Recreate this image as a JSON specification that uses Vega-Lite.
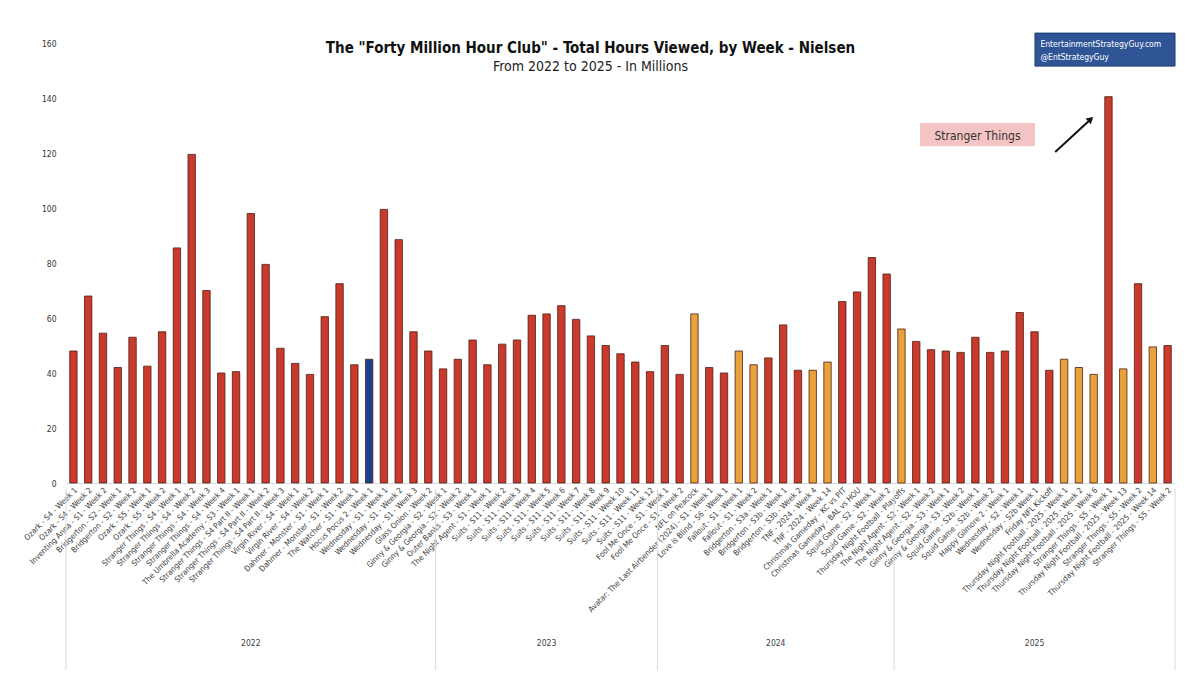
{
  "$schema": "https://vega.github.io/schema/vega-lite/v6.json",
  "width": 1109,
  "height": 440,
  "autosize": {"type": "none"},
  "padding": {"left": 66, "top": 43, "right": 25, "bottom": 194},
  "background": "white",
  "config": {
    "view": {"stroke": null},
    "font": "Liberation Sans Narrow, DejaVu Sans Condensed, sans-serif"
  },
  "title": {
    "text": "The \"Forty Million Hour Club\" - Total Hours Viewed, by Week - Nielsen",
    "subtitle": "From 2022 to 2025 - In Millions",
    "anchor": "middle",
    "frame": "group",
    "offset": -41,
    "dx": -30,
    "fontSize": 15,
    "fontWeight": "bold",
    "color": "#111111",
    "subtitleFontSize": 14,
    "subtitleColor": "#222222",
    "subtitlePadding": 4,
    "font": "Liberation Sans Narrow, DejaVu Sans Condensed, sans-serif",
    "subtitleFont": "Liberation Sans Narrow, DejaVu Sans Condensed, sans-serif"
  },
  "datasets": {
    "weeks": [
      {"show": "Ozark - S4 - Week 1", "year": "2022", "platform": "Netflix", "hours": 48},
      {"show": "Ozark - S4 - Week 2", "year": "2022", "platform": "Netflix", "hours": 68},
      {"show": "Inventing Anna - S1 - Week 2", "year": "2022", "platform": "Netflix", "hours": 54.5},
      {"show": "Bridgerton - S2 - Week 1", "year": "2022", "platform": "Netflix", "hours": 42},
      {"show": "Bridgerton - S2 - Week 2", "year": "2022", "platform": "Netflix", "hours": 53},
      {"show": "Ozark - S5 - Week 1", "year": "2022", "platform": "Netflix", "hours": 42.5},
      {"show": "Ozark - S5 - Week 2", "year": "2022", "platform": "Netflix", "hours": 55},
      {"show": "Stranger Things - S4 - Week 1", "year": "2022", "platform": "Netflix", "hours": 85.5},
      {"show": "Stranger Things - S4 - Week 2", "year": "2022", "platform": "Netflix", "hours": 119.5},
      {"show": "Stranger Things - S4 - Week 3", "year": "2022", "platform": "Netflix", "hours": 70},
      {"show": "Stranger Things - S4 - Week 4", "year": "2022", "platform": "Netflix", "hours": 40},
      {"show": "The Umbrella Academy - S3 - Week 1", "year": "2022", "platform": "Netflix", "hours": 40.5},
      {"show": "Stranger Things - S4 Part II - Week 1", "year": "2022", "platform": "Netflix", "hours": 98},
      {"show": "Stranger Things - S4 Part II - Week 2", "year": "2022", "platform": "Netflix", "hours": 79.5},
      {"show": "Stranger Things - S4 Part II - Week 3", "year": "2022", "platform": "Netflix", "hours": 49},
      {"show": "Virgin River - S4 - Week 1", "year": "2022", "platform": "Netflix", "hours": 43.5},
      {"show": "Virgin River - S4 - Week 2", "year": "2022", "platform": "Netflix", "hours": 39.5},
      {"show": "Dahmer - Monster - S1 - Week 1", "year": "2022", "platform": "Netflix", "hours": 60.5},
      {"show": "Dahmer - Monster - S1 - Week 2", "year": "2022", "platform": "Netflix", "hours": 72.5},
      {"show": "The Watcher - S1 - Week 1", "year": "2022", "platform": "Netflix", "hours": 43},
      {"show": "Hocus Pocus 2 - Week 1", "year": "2022", "platform": "Disney+", "hours": 45},
      {"show": "Wednesday - S1 - Week 1", "year": "2022", "platform": "Netflix", "hours": 99.5},
      {"show": "Wednesday - S1 - Week 2", "year": "2022", "platform": "Netflix", "hours": 88.5},
      {"show": "Wednesday - S1 - Week 3", "year": "2022", "platform": "Netflix", "hours": 55},
      {"show": "Glass Onion - Week 2", "year": "2022", "platform": "Netflix", "hours": 48},
      {"show": "Ginny & Georgia - S2 - Week 1", "year": "2023", "platform": "Netflix", "hours": 41.5},
      {"show": "Ginny & Georgia - S2 - Week 2", "year": "2023", "platform": "Netflix", "hours": 45},
      {"show": "Outer Banks - S3 - Week 1", "year": "2023", "platform": "Netflix", "hours": 52},
      {"show": "The Night Agent - S1 - Week 1", "year": "2023", "platform": "Netflix", "hours": 43},
      {"show": "Suits - S11 - Week 2", "year": "2023", "platform": "Netflix", "hours": 50.5},
      {"show": "Suits - S11 - Week 3", "year": "2023", "platform": "Netflix", "hours": 52},
      {"show": "Suits - S11 - Week 4", "year": "2023", "platform": "Netflix", "hours": 61},
      {"show": "Suits - S11 - Week 5", "year": "2023", "platform": "Netflix", "hours": 61.5},
      {"show": "Suits - S11 - Week 6", "year": "2023", "platform": "Netflix", "hours": 64.5},
      {"show": "Suits - S11 - Week 7", "year": "2023", "platform": "Netflix", "hours": 59.5},
      {"show": "Suits - S11 - Week 8", "year": "2023", "platform": "Netflix", "hours": 53.5},
      {"show": "Suits - S11 - Week 9", "year": "2023", "platform": "Netflix", "hours": 50},
      {"show": "Suits - S11 - Week 10", "year": "2023", "platform": "Netflix", "hours": 47},
      {"show": "Suits - S11 - Week 11", "year": "2023", "platform": "Netflix", "hours": 44},
      {"show": "Suits - S11 - Week 12", "year": "2023", "platform": "Netflix", "hours": 40.5},
      {"show": "Fool Me Once - S1 - Week 1", "year": "2024", "platform": "Netflix", "hours": 50},
      {"show": "Fool Me Once - S1 - Week 2", "year": "2024", "platform": "Netflix", "hours": 39.5},
      {"show": "NFL on Peacock", "year": "2024", "platform": "Other", "hours": 61.5},
      {"show": "Avatar: The Last Airbender (2024) - S1 - Week 1", "year": "2024", "platform": "Netflix", "hours": 42},
      {"show": "Love is Blind - S6 - Week 1", "year": "2024", "platform": "Netflix", "hours": 40},
      {"show": "Fallout - S1 - Week 1", "year": "2024", "platform": "Other", "hours": 48},
      {"show": "Fallout - S1 - Week 2", "year": "2024", "platform": "Other", "hours": 43},
      {"show": "Bridgerton - S3a - Week 1", "year": "2024", "platform": "Netflix", "hours": 45.5},
      {"show": "Bridgerton - S3b - Week 1", "year": "2024", "platform": "Netflix", "hours": 57.5},
      {"show": "Bridgerton - S3b - Week 2", "year": "2024", "platform": "Netflix", "hours": 41},
      {"show": "TNF - 2024 - Week 4", "year": "2024", "platform": "Other", "hours": 41},
      {"show": "TNF - 2024 - Week 14", "year": "2024", "platform": "Other", "hours": 44},
      {"show": "Christmas Gameday - KC vs PIT", "year": "2024", "platform": "Netflix", "hours": 66},
      {"show": "Christmas Gameday - BAL vs HOU", "year": "2024", "platform": "Netflix", "hours": 69.5},
      {"show": "Squid Game - S2 - Week 1", "year": "2024", "platform": "Netflix", "hours": 82},
      {"show": "Squid Game - S2 - Week 2", "year": "2024", "platform": "Netflix", "hours": 76},
      {"show": "Thursday Night Football - Playoffs", "year": "2025", "platform": "Other", "hours": 56},
      {"show": "The Night Agent - S2 - Week 1", "year": "2025", "platform": "Netflix", "hours": 51.5},
      {"show": "The Night Agent - S2 - Week 2", "year": "2025", "platform": "Netflix", "hours": 48.5},
      {"show": "Ginny & Georgia - S3 - Week 1", "year": "2025", "platform": "Netflix", "hours": 48},
      {"show": "Ginny & Georgia - S3 - Week 2", "year": "2025", "platform": "Netflix", "hours": 47.5},
      {"show": "Squid Game - S2b - Week 1", "year": "2025", "platform": "Netflix", "hours": 53},
      {"show": "Squid Game - S2b - Week 2", "year": "2025", "platform": "Netflix", "hours": 47.5},
      {"show": "Happy Gilmore 2 - Week 1", "year": "2025", "platform": "Netflix", "hours": 48},
      {"show": "Wednesday - S2 - Week 1", "year": "2025", "platform": "Netflix", "hours": 62},
      {"show": "Wednesday - S2b Week 1", "year": "2025", "platform": "Netflix", "hours": 55},
      {"show": "Friday NFL Kickoff", "year": "2025", "platform": "Netflix", "hours": 41},
      {"show": "Thursday Night Football - 2025 - Week 1", "year": "2025", "platform": "Other", "hours": 45},
      {"show": "Thursday Night Football - 2025 - Week 2", "year": "2025", "platform": "Other", "hours": 42},
      {"show": "Thursday Night Football - 2025 - Week 6", "year": "2025", "platform": "Other", "hours": 39.5},
      {"show": "Stranger Things - S5 - Week 1", "year": "2025", "platform": "Netflix", "hours": 140.5},
      {"show": "Thursday Night Football - 2025 - Week 13", "year": "2025", "platform": "Other", "hours": 41.5},
      {"show": "Stranger Things - S5 - Week 2", "year": "2025", "platform": "Netflix", "hours": 72.5},
      {"show": "Thursday Night Football - 2025 - Week 14", "year": "2025", "platform": "Other", "hours": 49.5},
      {"show": "Stranger Things - S5 - Week 2 ", "year": "2025", "platform": "Netflix", "hours": 50}
    ],
    "years": [
      {"year": "2022", "mid": 12.5},
      {"year": "2023", "mid": 32.5},
      {"year": "2024", "mid": 48},
      {"year": "2025", "mid": 65.5}
    ],
    "bounds": [
      {"pos": 0, "top": -2, "bottom": -68},
      {"pos": 25, "top": -2, "bottom": -68},
      {"pos": 40, "top": -2, "bottom": -68},
      {"pos": 56, "top": -2, "bottom": -68},
      {"pos": 75, "top": -2, "bottom": -68}
    ],
    "callout": [
      {"label": "Stranger Things", "x0": 57.75, "x1": 65.53, "y0": 122.5, "y1": 130.9, "xm": 61.64, "ym": 126.2}
    ],
    "arrow": [
      {"x0": 66.9, "y0": 120.4, "x1": 69.3, "y1": 132.3}
    ],
    "badge": [
      {"x0": 65.53, "x1": 75, "y0": 151.6, "y1": 163.6}
    ],
    "badgeText": [
      {"line": "EntertainmentStrategyGuy.com", "x": 65.9, "y": 159.7},
      {"line": "@EntStrategyGuy", "x": 65.9, "y": 155}
    ]
  },
  "resolve": {"scale": {"x": "independent"}},
  "layer": [
    {
      "data": {"name": "weeks"},
      "mark": {"type": "bar", "stroke": "#4d1f17", "strokeWidth": 0.8},
      "encoding": {
        "x": {
          "field": "show",
          "type": "nominal",
          "sort": null,
          "scale": {"paddingInner": 0.5, "paddingOuter": 0.25},
          "axis": {
            "title": null,
            "labelAngle": -45,
            "labelFontSize": 8,
            "labelColor": "#404040",
            "labelPadding": 3,
            "labelLimit": 300,
            "ticks": false,
            "domainColor": "#d9d9d9",
            "labelFont": "Liberation Sans Narrow, DejaVu Sans Condensed, sans-serif"
          }
        },
        "y": {
          "field": "hours",
          "type": "quantitative",
          "scale": {"domain": [0, 160], "nice": false},
          "axis": {
            "title": null,
            "values": [0, 20, 40, 60, 80, 100, 120, 140, 160],
            "grid": false,
            "domain": false,
            "ticks": false,
            "labelPadding": 10,
            "labelFontSize": 8.5,
            "labelColor": "#333333",
            "labelFont": "Liberation Sans Narrow, DejaVu Sans Condensed, sans-serif"
          }
        },
        "color": {
          "field": "platform",
          "type": "nominal",
          "scale": {"domain": ["Netflix", "Other", "Disney+"], "range": ["#c9392c", "#e9a23b", "#1f3f8f"]},
          "legend": null
        }
      }
    },
    {
      "data": {"name": "bounds"},
      "mark": {"type": "rule", "color": "#d9d9d9", "strokeWidth": 1},
      "encoding": {
        "x": {"field": "pos", "type": "quantitative", "scale": {"domain": [0, 75], "nice": false}, "axis": null},
        "y": {"field": "top", "type": "quantitative"},
        "y2": {"field": "bottom"}
      }
    },
    {
      "data": {"name": "years"},
      "mark": {"type": "text", "fontSize": 8.5, "color": "#404040", "baseline": "middle"},
      "encoding": {
        "x": {"field": "mid", "type": "quantitative", "scale": {"domain": [0, 75], "nice": false}, "axis": null},
        "y": {"datum": -58, "type": "quantitative"},
        "text": {"field": "year"}
      }
    },
    {
      "data": {"name": "callout"},
      "mark": {"type": "rect", "color": "#f4c4c4"},
      "encoding": {
        "x": {"field": "x0", "type": "quantitative", "scale": {"domain": [0, 75], "nice": false}, "axis": null},
        "x2": {"field": "x1"},
        "y": {"field": "y0", "type": "quantitative"},
        "y2": {"field": "y1"}
      }
    },
    {
      "data": {"name": "callout"},
      "mark": {"type": "text", "fontSize": 12, "color": "#333333", "baseline": "middle"},
      "encoding": {
        "x": {"field": "xm", "type": "quantitative", "scale": {"domain": [0, 75], "nice": false}, "axis": null},
        "y": {"field": "ym", "type": "quantitative"},
        "text": {"field": "label"}
      }
    },
    {
      "data": {"name": "arrow"},
      "mark": {"type": "rule", "color": "#111111", "strokeWidth": 2},
      "encoding": {
        "x": {"field": "x0", "type": "quantitative", "scale": {"domain": [0, 75], "nice": false}, "axis": null},
        "x2": {"field": "x1"},
        "y": {"field": "y0", "type": "quantitative"},
        "y2": {"field": "y1"}
      }
    },
    {
      "data": {"name": "arrow"},
      "mark": {"type": "point", "shape": "triangle-right", "filled": true, "color": "#111111", "size": 60, "angle": -42, "opacity": 1},
      "encoding": {
        "x": {"field": "x1", "type": "quantitative", "scale": {"domain": [0, 75], "nice": false}, "axis": null},
        "y": {"field": "y1", "type": "quantitative"}
      }
    },
    {
      "data": {"name": "badge"},
      "mark": {"type": "rect", "color": "#2f5597", "stroke": "#1f3b6f", "strokeWidth": 1},
      "encoding": {
        "x": {"field": "x0", "type": "quantitative", "scale": {"domain": [0, 75], "nice": false}, "axis": null},
        "x2": {"field": "x1"},
        "y": {"field": "y0", "type": "quantitative"},
        "y2": {"field": "y1"}
      }
    },
    {
      "data": {"name": "badgeText"},
      "mark": {"type": "text", "fontSize": 8.5, "color": "white", "align": "left", "baseline": "middle"},
      "encoding": {
        "x": {"field": "x", "type": "quantitative", "scale": {"domain": [0, 75], "nice": false}, "axis": null},
        "y": {"field": "y", "type": "quantitative"},
        "text": {"field": "line"}
      }
    }
  ]
}
